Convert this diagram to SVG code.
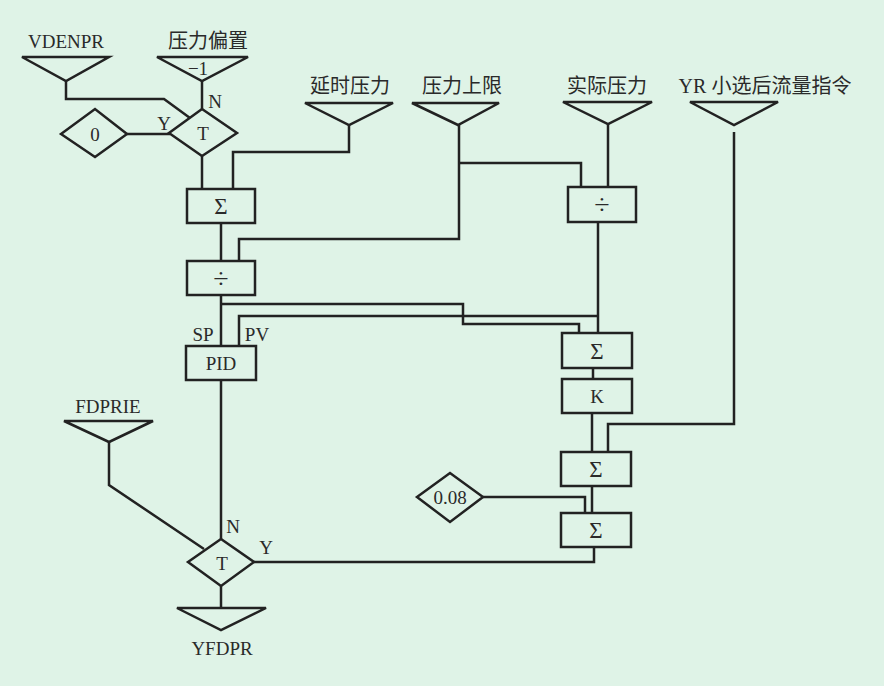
<svg xmlns="http://www.w3.org/2000/svg" width="884" height="686" viewBox="0 0 884 686">
<style>
.s{fill:none;stroke:#222;stroke-width:2.5;stroke-linejoin:miter}
.b{fill:none;stroke:#222;stroke-width:2.5}
.t{font-family:"Liberation Serif","Noto Sans CJK SC",serif;font-size:19px;fill:#2a2a2a;text-anchor:middle}
.c{font-family:"Liberation Serif","Noto Sans CJK SC",serif;font-size:20px;fill:#2a2a2a;text-anchor:middle}
.g{font-family:"Liberation Serif",serif;font-size:23px;fill:#2a2a2a;text-anchor:middle}
.d{font-family:"Liberation Serif",serif;font-size:28px;fill:#2a2a2a;text-anchor:middle}
</style>
<rect width="884" height="686" fill="#dff3e7"/>
<g id="connectors" class="s">
<polyline points="66,81 66,99 164,99 190,118"/>
<line x1="202" y1="81" x2="202" y2="109"/>
<line x1="127" y1="134" x2="170" y2="134"/>
<line x1="202" y1="156" x2="202" y2="189"/>
<polyline points="349,125 349,152 233,152 233,189"/>
<polyline points="459,125 459,239 239,239 239,261"/>
<polyline points="459,163 581,163 581,187"/>
<line x1="608" y1="124" x2="608" y2="187"/>
<line x1="221" y1="223" x2="221" y2="261"/>
<line x1="221" y1="295" x2="221" y2="346"/>
<polyline points="221,304 463,304 463,324 579,324 579,333"/>
<polyline points="239,346 239,316 598,316"/>
<line x1="598" y1="222" x2="598" y2="333"/>
<line x1="593" y1="368" x2="593" y2="379"/>
<line x1="592" y1="413" x2="592" y2="452"/>
<polyline points="734,132 734,424 608,424 608,452"/>
<line x1="592" y1="486" x2="592" y2="513"/>
<polyline points="483,497 585,497 585,513"/>
<polyline points="594,547 594,562 254,562"/>
<line x1="221" y1="380" x2="221" y2="539"/>
<polyline points="109,442 109,485 204,549"/>
<line x1="221" y1="586" x2="221" y2="608"/>
</g>
<g id="vdenpr">
<polygon class="b" points="22,57 109,57 66,81"/>
<text class="t" x="66" y="48">VDENPR</text>
</g>
<g id="pressure-bias">
<polygon class="b" points="157,57 248,57 202,81"/>
<text class="c" x="208" y="48">压力偏置</text>
<text class="t" x="198" y="75" style="font-size:19px">−1</text>
</g>
<g id="switch-top">
<polygon class="b" points="202,109 237,133 202,156 169,133"/>
<text class="t" x="203" y="140">T</text>
<text class="t" x="215" y="108">N</text>
<text class="t" x="164" y="130">Y</text>
</g>
<g id="const-0">
<polygon class="b" points="61,134 95,109 127,134 95,157"/>
<text class="t" x="95" y="141">0</text>
</g>
<g id="delay-pressure">
<polygon class="b" points="305,103 393,103 349,125"/>
<text class="c" x="350" y="93">延时压力</text>
</g>
<g id="pressure-limit">
<polygon class="b" points="412,103 499,103 458,125"/>
<text class="c" x="462" y="93">压力上限</text>
</g>
<g id="actual-pressure">
<polygon class="b" points="563,102 652,102 608,124"/>
<text class="c" x="607" y="93">实际压力</text>
</g>
<g id="yr-flow">
<polygon class="b" points="690,102 778,102 734,125"/>
<text class="c" x="765" y="93">YR 小选后流量指令</text>
</g>
<g id="sum-1">
<rect class="b" x="187" y="189" width="68" height="34"/>
<text class="g" x="221" y="214">Σ</text>
</g>
<g id="div-1">
<rect class="b" x="187" y="261" width="68" height="34"/>
<text class="d" x="221" y="288">÷</text>
</g>
<g id="div-2">
<rect class="b" x="568" y="187" width="68" height="35"/>
<text class="d" x="602" y="214">÷</text>
</g>
<g id="pid">
<rect class="b" x="186" y="346" width="70" height="34"/>
<text class="t" x="221" y="370">PID</text>
<text class="t" x="203" y="341">SP</text>
<text class="t" x="257" y="341">PV</text>
</g>
<g id="sum-2">
<rect class="b" x="562" y="333" width="70" height="35"/>
<text class="g" x="597" y="359">Σ</text>
</g>
<g id="gain-k">
<rect class="b" x="562" y="379" width="70" height="34"/>
<text class="t" x="597" y="403">K</text>
</g>
<g id="sum-3">
<rect class="b" x="561" y="452" width="70" height="34"/>
<text class="g" x="596" y="477">Σ</text>
</g>
<g id="const-008">
<polygon class="b" points="417,497 450,473 483,497 450,522"/>
<text class="t" x="450" y="504">0.08</text>
</g>
<g id="sum-4">
<rect class="b" x="561" y="513" width="70" height="34"/>
<text class="g" x="596" y="538">Σ</text>
</g>
<g id="fdprie">
<polygon class="b" points="64,421 153,421 109,442"/>
<text class="t" x="108" y="413">FDPRIE</text>
</g>
<g id="switch-bottom">
<polygon class="b" points="221,539 254,562 221,586 188,562"/>
<text class="t" x="222" y="570">T</text>
<text class="t" x="233" y="533">N</text>
<text class="t" x="266" y="554">Y</text>
</g>
<g id="yfdpr">
<polygon class="b" points="177,608 266,608 221,630"/>
<text class="t" x="222" y="655">YFDPR</text>
</g>
</svg>
